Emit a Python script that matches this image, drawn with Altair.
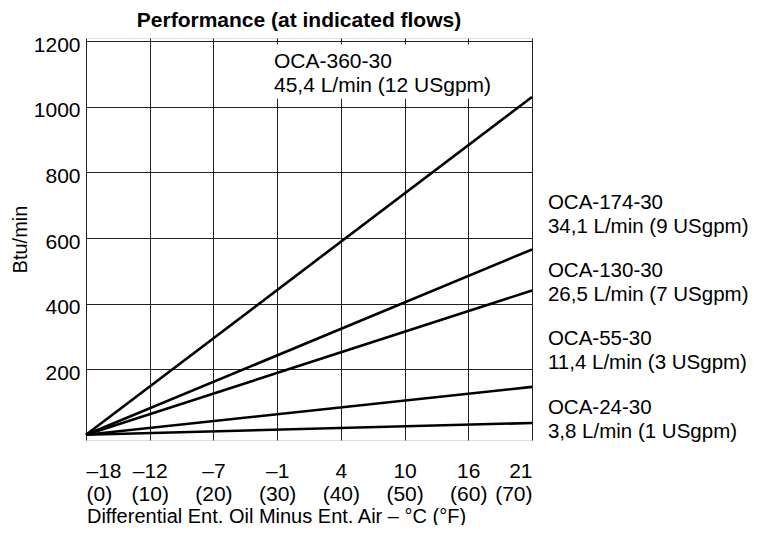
import altair as alt
import pandas as pd

FONT = "Liberation Sans"

# ---- data ----
series = ["OCA-360-30", "OCA-174-30", "OCA-130-30", "OCA-55-30", "OCA-24-30"]
flows = ["45,4 L/min (12 USgpm)", "34,1 L/min (9 USgpm)", "26,5 L/min (7 USgpm)",
         "11,4 L/min (3 USgpm)", "3,8 L/min (1 USgpm)"]
start_f = 0          # deg F differential at line start
end_f = 70           # deg F differential at line end
start_btu = 0
end_btu = [1030, 565, 440, 146, 36]

f_ticks = [0, 10, 20, 30, 40, 50, 60, 70]
c_labels = ["–18", "–12", "–7", "–1", "4", "10", "16", "21"]
y_ticks = [200, 400, 600, 800, 1000, 1200]

# annotation anchors (data units, first text line)
label_x = [29.5, 72.5, 72.5, 72.5, 72.5]
label_y = [1136, 707, 499, 291, 82]
label_size = [21, 20.5, 20.5, 20.5, 20.5]
box_x = [28.5, 64]
box_y = [1025, 1190]

# ---- tables ----
rows = []
for s, v in zip(series, end_btu):
    rows.append({"series": s, "f": start_f, "btu": start_btu})
    rows.append({"series": s, "f": end_f, "btu": v})
lines_df = pd.DataFrame(rows)

labels_df = pd.DataFrame({
    "text": [f"{s}\n{fl}" for s, fl in zip(series, flows)],
    "x": label_x, "y": label_y, "size": label_size,
})
box_df = pd.DataFrame({"x": [box_x[0]], "x2": [box_x[1]], "y": [box_y[0]], "y2": [box_y[1]]})

c_arr = "[" + ",".join(f"'{c}'" for c in c_labels) + "]"

xscale = alt.Scale(domain=[0, 70], nice=False, zero=False)
yscale = alt.Scale(domain=[-16, 1210], nice=False, zero=False)

x_axis = alt.Axis(
    values=f_ticks,
    labelExpr=f"[{c_arr}[round(datum.value/10)], '(' + datum.label + ')']",
    title="Differential Ent. Oil Minus Ent. Air – °C (°F)",
    ticks=False, domain=False, grid=True,
    gridColor="#222222", gridWidth=1, gridOpacity=1,
    labelFont=FONT, labelFontSize=21, labelColor="black",
    labelLineHeight=23, labelPadding=20, labelBaseline="top",
    titleFont=FONT, titleFontSize=20, titleFontWeight="normal", titleColor="black",
    titleX=190, titleY=76, titleAlign="center", titleBaseline="middle",
)
y_axis = alt.Axis(
    values=y_ticks, format="d",
    title="Btu/min",
    ticks=False, domain=False, grid=True,
    gridColor="#222222", gridWidth=1, gridOpacity=1,
    labelFont=FONT, labelFontSize=21, labelColor="black",
    labelPadding=6, labelOffset=4,
    titleFont=FONT, titleFontSize=20, titleFontWeight="normal", titleColor="black",
    titleX=-66, titleY=201, titleAlign="center", titleBaseline="middle", titleAngle=-90,
)

box = alt.Chart(box_df).mark_rect(color="white").encode(
    x=alt.X("x:Q", scale=xscale, axis=x_axis),
    x2="x2:Q",
    y=alt.Y("y:Q", scale=yscale, axis=y_axis),
    y2="y2:Q",
)

lines = alt.Chart(lines_df).mark_line(color="black", strokeWidth=2.6, clip=False).encode(
    x=alt.X("f:Q", scale=xscale),
    y=alt.Y("btu:Q", scale=yscale),
    detail="series:N",
)

texts = alt.Chart(labels_df).mark_text(
    align="left", baseline="middle", lineBreak="\n", font=FONT,
    color="black", lineHeight=24, clip=False,
).encode(
    x=alt.X("x:Q", scale=xscale),
    y=alt.Y("y:Q", scale=yscale),
    text="text:N",
    size=alt.Size("size:Q", scale=None, legend=None),
)

chart = alt.layer(box, lines, texts).properties(
    width=446, height=402,
    title=alt.TitleParams(
        "Performance (at indicated flows)", font=FONT, fontSize=21, fontWeight="bold",
        color="black", anchor="middle", dx=-10, dy=8, offset=11,
    ),
    autosize=alt.AutoSizeParams(type="none"),
    padding={"left": 78, "top": 30, "right": 218, "bottom": 85},
).configure_view(stroke="black", strokeWidth=1.5).configure(background="white")

chart.save("out.html", embed_options={"renderer": "svg", "actions": False})
